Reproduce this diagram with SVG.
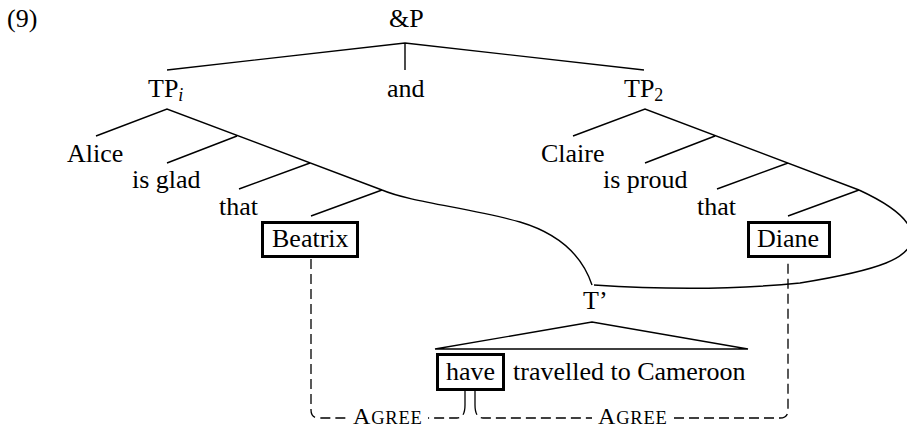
<svg xmlns="http://www.w3.org/2000/svg" width="907" height="428" viewBox="0 0 907 428" font-family="'Liberation Serif', 'Times New Roman', Times, serif">
<style>
text { font-family: "Liberation Serif", "Times New Roman", Times, serif; font-size: 26px; fill: #000; }
.sub { font-size: 18px; }
.sc { font-size: 24px; }
.scs { font-size: 18.5px; }
.edge { stroke: #000; stroke-width: 1.4; fill: none; }
.box { stroke: #000; stroke-width: 3; fill: none; }
.dash { stroke: #000; stroke-width: 1.3; fill: none; stroke-dasharray: 10 5; }
.solid { stroke: #000; stroke-width: 1.3; fill: none; }
</style>
<rect width="907" height="428" fill="#fff"/>
<text id="label-9" x="7" y="27">(9)</text>
<g id="connectors">
  <path class="edge" d="M167,70 L405,43 L644,70 M405,43 V70"/>
  <path class="edge" d="M96,136 L167,109 L382,190 M237,136 L167,163 M310,163 L239,189 M382,190 L311,216"/>
  <path class="edge" d="M573,136 L645,109 L859,190 M715,136 L645,163 M788,163 L717,189 M859,190 L788,216"/>
  <path class="edge" d="M382,190 C410,202 470,208 520,222 C560,234 582,255 592,285"/>
  <path class="edge" d="M859,190 C885,202 912,218 912,237 C912,258 880,270 800,283 C720,291 640,288 594,285"/>
  <path class="edge" d="M435,349 L592,322 L748,349 Z"/>
  <path class="dash" d="M311,259 V410 Q311,418 319,418 H348"/>
  <path class="dash" d="M465,405 Q465,418 457,418 H428"/>
  <path class="solid" d="M465,391 V405"/>
  <path class="solid" d="M475,391 V405"/>
  <path class="dash" d="M475,405 Q475,418 483,418 H592"/>
  <path class="dash" d="M674,418 H780 Q788,418 788,410 V259"/>
</g>
<g id="node-andP"><text x="389" y="27">&amp;P</text></g>
<g id="node-TPi"><text x="148" y="97">TP<tspan class="sub" font-style="italic" dy="4">i</tspan></text></g>
<g id="node-and"><text x="387" y="97">and</text></g>
<g id="node-TP2"><text x="624" y="97">TP<tspan class="sub" dy="4">2</tspan></text></g>
<g id="node-Alice"><text x="67" y="162">Alice</text></g>
<g id="node-isglad"><text x="132" y="188">is glad</text></g>
<g id="node-that1"><text x="219" y="215">that</text></g>
<g id="node-Beatrix"><rect class="box" x="262.5" y="222.5" width="95" height="34"/><text x="272" y="247">Beatrix</text></g>
<g id="node-Claire"><text x="541" y="162">Claire</text></g>
<g id="node-isproud"><text x="603" y="188">is proud</text></g>
<g id="node-that2"><text x="697" y="215">that</text></g>
<g id="node-Diane"><rect class="box" x="748.5" y="222.5" width="81" height="34"/><text x="757" y="247">Diane</text></g>
<g id="node-Tbar"><text x="583" y="309">T’</text></g>
<g id="node-have"><rect class="box" x="437.5" y="354.5" width="66" height="35"/><text x="446" y="380">have</text></g>
<g id="node-travelled"><text x="513" y="380">travelled to Cameroon</text></g>
<g id="label-agree1"><text x="353" y="424" letter-spacing="0.8"><tspan class="sc">A</tspan><tspan class="scs">GREE</tspan></text></g>
<g id="label-agree2"><text x="598" y="424" letter-spacing="0.8"><tspan class="sc">A</tspan><tspan class="scs">GREE</tspan></text></g>
</svg>
